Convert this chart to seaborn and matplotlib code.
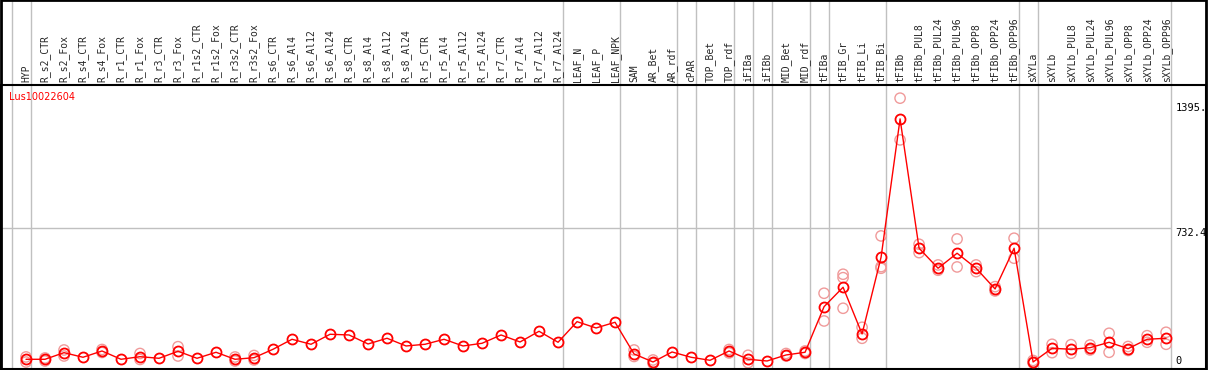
import numpy as np
import pandas as pd
import matplotlib
matplotlib.use("Agg")
import matplotlib.pyplot as plt
from matplotlib.patches import Rectangle
import seaborn as sns

samples = ["HYP", "R_s2_CTR", "R_s2_Fox", "R_s4_CTR", "R_s4_Fox", "R_r1_CTR", "R_r1_Fox",
           "R_r3_CTR", "R_r3_Fox", "R_r1s2_CTR", "R_r1s2_Fox", "R_r3s2_CTR", "R_r3s2_Fox",
           "R_s6_CTR", "R_s6_Al4", "R_s6_Al12", "R_s6_Al24", "R_s8_CTR", "R_s8_Al4",
           "R_s8_Al12", "R_s8_Al24", "R_r5_CTR", "R_r5_Al4", "R_r5_Al12", "R_r5_Al24",
           "R_r7_CTR", "R_r7_Al4", "R_r7_Al12", "R_r7_Al24", "LEAF_N", "LEAF_P", "LEAF_NPK",
           "SAM", "AR_Bet", "AR_rdf", "cPAR", "TOP_Bet", "TOP_rdf", "iFIBa", "iFIBb",
           "MID_Bet", "MID_rdf", "tFIBa", "tFIB_Gr", "tFIB_Li", "tFIB_Bi", "tFIBb",
           "tFIBb_PUL8", "tFIBb_PUL24", "tFIBb_PUL96", "tFIBb_OPP8", "tFIBb_OPP24",
           "tFIBb_OPP96", "sXYLa", "sXYLb", "sXYLb_PUL8", "sXYLb_PUL24", "sXYLb_PUL96",
           "sXYLb_OPP8", "sXYLb_OPP24", "sXYLb_OPP96"]

means = [35.5, 35.5, 70.6, 46.2, 79.6, 35.5, 49.3, 40.8, 78.0, 40.8, 72.7, 35.5, 44.0,
         88.6, 141.6, 115.1, 168.2, 164.5, 116.7, 147.0, 106.1, 115.1, 141.6, 106.1, 120.4,
         164.5, 127.3, 184.1, 125.7, 235.0, 201.6, 231.8,
         63.7, 21.2, 74.3, 46.2, 30.2, 79.6, 35.5, 26.5, 58.4, 72.7,
         314.6, 417.5, 169.8, 576.7, 1310.3, 624.4, 518.3, 597.9, 518.3, 408.5, 624.4,
         21.2, 93.9, 88.6, 97.1, 125.7, 91.8, 141.6, 147.0]

replicates = {
    "HYP": [21.0, 48.0], "R_s2_CTR": [26.5, 42.4], "R_s2_Fox": [84.9, 53.0],
    "R_s4_Fox": [87.5, 71.6], "R_r1_Fox": [66.3, 34.5], "R_r3_Fox": [102.4, 53.0],
    "R_r3s2_CTR": [26.5, 47.7], "R_r3s2_Fox": [55.7, 31.8], "SAM": [84.9, 50.4],
    "AR_Bet": [31.8, 13.3], "TOP_rdf": [87.5, 69.0], "iFIBa": [56.8, 17.5],
    "MID_Bet": [66.3, 53.0], "MID_rdf": [79.6, 66.3],
    "tFIBa": [385.7, 238.7], "tFIB_Gr": [486.5, 468.4, 306.1], "tFIB_Li": [205.3, 146.9],
    "tFIB_Bi": [689.7, 526.8, 518.3], "tFIBb": [1420.2, 1198.9],
    "tFIBb_PUL8": [645.6, 601.1], "tFIBb_PUL24": [535.8, 507.7],
    "tFIBb_PUL96": [673.7, 525.2], "tFIBb_OPP8": [535.8, 500.3],
    "tFIBb_OPP24": [420.7, 397.9], "tFIBb_OPP96": [677.5, 571.4],
    "sXYLa": [29.2, 15.9], "sXYLb": [115.1, 70.6], "sXYLb_PUL8": [113.0, 67.4],
    "sXYLb_PUL24": [111.4, 84.9], "sXYLb_PUL96": [173.5, 72.7],
    "sXYLb_OPP8": [103.4, 82.2], "sXYLb_OPP24": [160.7, 125.7],
    "sXYLb_OPP96": [178.8, 115.1],
}

group_sizes = [1, 28, 3, 3, 1, 2, 1, 1, 2, 1, 3, 7, 1, 7]
ytick_values = [0, 732.4, 1395]
ytick_labels = ["0", "732.4", "1395."]
gene = "Lus10022604"

W, H = 1209, 370
fig = plt.figure(figsize=(W / 100, H / 100), dpi=100)
sns.set_style("white")
ax = fig.add_axes([1 / W, 1 / H, 1205 / W, (369 - 85) / H])

pos = np.arange(len(samples))
df = pd.DataFrame({"pos": pos, "mean": means})
rep_rows = [(samples.index(k), v) for k, vals in replicates.items() for v in vals]
rdf = pd.DataFrame(rep_rows, columns=["pos", "value"])

# group separators and grid
bounds = np.concatenate([[-1], np.cumsum(group_sizes) - 1]) + 0.25
ax.set_xlim(-1.316, 62.1)
ax.set_ylim(-16, 1490)
for b in bounds:
    ax.axvline(b, ymin=0, ymax=369 / 284, color="#c0c0c0", lw=1, clip_on=False, zorder=0)
ax.hlines(732.4, -1.316, bounds[-1], color="#c0c0c0", lw=1, zorder=0)

sns.scatterplot(data=rdf, x="pos", y="value", marker="o", s=55, facecolors="none",
                edgecolor="#f09a9a", linewidth=1.0, ax=ax, zorder=2)
sns.lineplot(data=df, x="pos", y="mean", color="red", lw=1.0, marker="o", ms=7.2,
             mfc="none", mec="red", mew=1.3, ax=ax, zorder=3)

ax.xaxis.tick_top()
ax.set_xticks(pos)
ax.set_xticklabels(samples, rotation=90, family="DejaVu Sans Mono", fontsize=7)
ax.tick_params(axis="x", length=0, pad=2)
ax.set_yticks([])
ax.set_xlabel("")
ax.set_ylabel("")
for s in ax.spines.values():
    s.set_color("black")
    s.set_linewidth(1.5)

for v, lab in zip(ytick_values, ytick_labels):
    ax.text(60.5, v, lab, ha="left", va="bottom" if v == 0 else "top",
            family="DejaVu Sans Mono", fontsize=7.5, color="black")

fig.text(9 / W, 1 - 97 / H, gene, color="red", fontsize=7, va="center", ha="left")

fig.patches.append(Rectangle((1 / W, 0), 1205 / W, 1, transform=fig.transFigure,
                             fill=False, ec="black", lw=2, clip_on=False))

fig.savefig("out.png", dpi=100)
